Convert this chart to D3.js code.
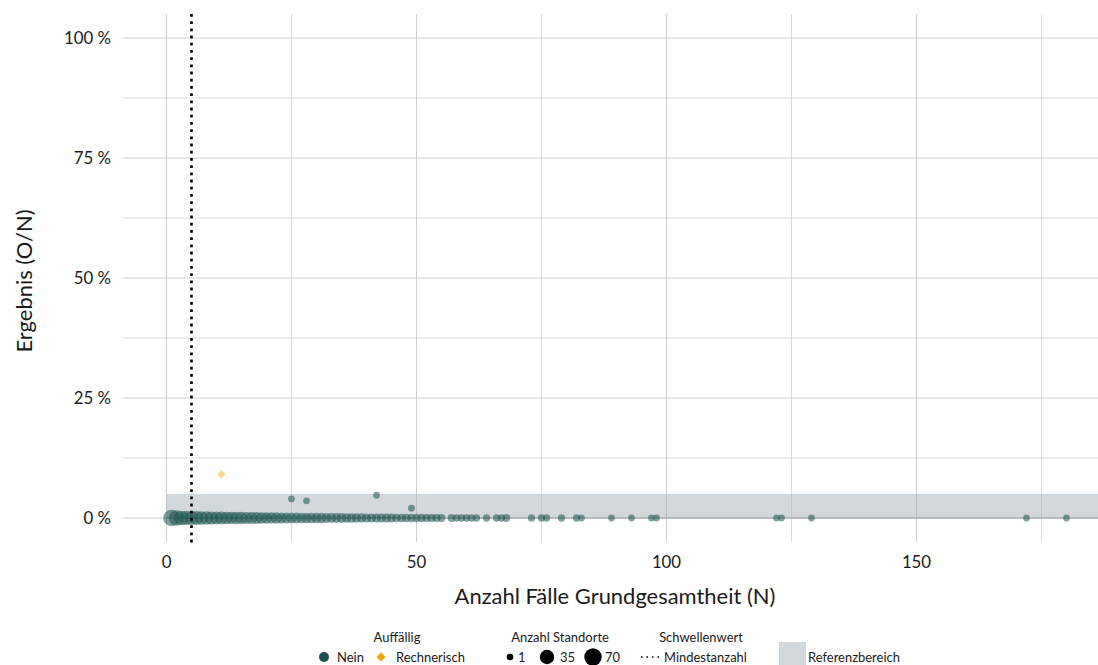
<!DOCTYPE html>
<html><head><meta charset="utf-8">
<script src="https://cdn.jsdelivr.net/npm/d3@7"></script>
<style>
body{margin:0;background:#fff;}
svg{display:block;font-family:Lato,"Open Sans",sans-serif;}
</style></head>
<body><svg id="c" width="1098" height="665"></svg>
<script>
// ---- data ----
// Points with result 0 %: N (Anzahl Fälle) and number of sites (Anzahl Standorte)
const zeroN = [1,2,3,4,5,6,7,8,9,10,11,12,13,14,15,16,17,18,19,20,21,22,23,24,25,26,27,28,29,30,31,32,33,34,35,36,37,38,39,40,41,42,43,44,45,46,47,48,49,50,51,52,53,54,55,57,58,59,60,61,62,64,66,67,68,73,75,76,79,82,83,89,93,97,98,122,123,129,172,180];
const zeroCount = [70,55,48,45,42,40,38,36,34,32,30,29,28,27,26,25,24,23,22,21,20,19,18,17,16,16,15,15,14,14,13,12,12,11,11,10,10,9,9,8,8,8,7,7,7,6,6,6,5,5,5,4,4,4,3,3,2,2,2,2,2,2,2,2,3,2,2,2,2,2,1,1,1,1,1,1,1,1,1,1];
// Points with result > 0 (Auffällig: Nein)
const otherN = [25,28,42,49];
const otherPct = [4.0,3.57,4.76,2.04];
const otherCount = [1,1,1,1];
// Rechnerisch auffällig
const rechN = [11];
const rechPct = [9.09];
const rechCount = [1];

const xTicks = [0,50,100,150];
const xMinor = [25,75,125,175];
const yTicks = [0,25,50,75,100];
const yMinor = [12.5,37.5,62.5,87.5];
const yTickLabels = ["0 %","25 %","50 %","75 %","100 %"];
const refRange = [0,5];
const minCases = 5;
const sizeBreaks = [1,35,70];

// ---- layout ----
const svg = d3.select("#c");
const P = {l:123, r:1098, t:14, b:542};
const x = d3.scaleLinear().domain([-8.7,186.3]).range([P.l,P.r]);
const y = d3.scaleLinear().domain([-5,105]).range([P.b,P.t]);
const rs = d3.scaleLinear().domain([1,Math.sqrt(70)]).range([3.4,8.3]);
const rad = n => rs(Math.sqrt(n));
const teal = "#1d534e", orange = "#f0a30a";
const tf = "#1a1a1a";

// font size that makes a text reach a given width
function fitSize(txt, w){
  const t = svg.append("text").attr("font-size",20).text(txt);
  const m = t.node().getComputedTextLength(); t.remove();
  return 20*w/m;
}
const fsTitle = fitSize("Anzahl Fälle Grundgesamtheit (N)", 321);
const fsTick = fitSize("100 %", 47);
const fsLeg = fitSize("Referenzbereich", 92);

const g = svg.append("g");
// grid
g.selectAll(".gm").data(yMinor).join("line")
  .attr("x1",P.l).attr("x2",P.r).attr("y1",d=>y(d)).attr("y2",d=>y(d))
  .attr("stroke","#dcdcdc").attr("stroke-width",1);
g.selectAll(".gv").data(xMinor).join("line")
  .attr("y1",P.t).attr("y2",P.b).attr("x1",d=>x(d)).attr("x2",d=>x(d))
  .attr("stroke","#dcdcdc").attr("stroke-width",1);
g.selectAll(".gM").data(yTicks).join("line")
  .attr("x1",P.l).attr("x2",P.r).attr("y1",d=>y(d)).attr("y2",d=>y(d))
  .attr("stroke","#cfcfcf").attr("stroke-width",1.1);
g.selectAll(".gVM").data(xTicks).join("line")
  .attr("y1",P.t).attr("y2",P.b).attr("x1",d=>x(d)).attr("x2",d=>x(d))
  .attr("stroke","#cfcfcf").attr("stroke-width",1.1);

// reference band
g.append("rect").attr("x",x(refRange[0])).attr("width",P.r-x(refRange[0]))
  .attr("y",y(refRange[1])).attr("height",y(refRange[0])-y(refRange[1]))
  .attr("fill","#a7b1ba").attr("fill-opacity",0.5);
g.append("line").attr("x1",x(refRange[0])).attr("x2",P.r).attr("y1",y(0)).attr("y2",y(0))
  .attr("stroke","#aab0b4").attr("stroke-width",1.3);

// points
const pts = zeroN.map((n,i)=>({n, v:0, c:zeroCount[i]}))
  .concat(otherN.map((n,i)=>({n, v:otherPct[i], c:otherCount[i]})));
g.selectAll(".p").data(pts).join("circle")
  .attr("cx",d=>x(d.n)).attr("cy",d=>y(d.v)).attr("r",d=>rad(d.c))
  .attr("fill",teal).attr("fill-opacity",0.55);
const sq = d3.symbol().type(d3.symbolSquare);
g.selectAll(".r").data(rechN.map((n,i)=>({n,v:rechPct[i],c:rechCount[i]}))).join("path")
  .attr("transform",d=>`translate(${x(d.n)},${y(d.v)}) rotate(45)`)
  .attr("d",d=>sq.size(Math.pow(rad(d.c)*1.75,2))())
  .attr("fill",orange).attr("fill-opacity",0.45);

// threshold line
g.append("line").attr("x1",x(minCases)).attr("x2",x(minCases)).attr("y1",P.t).attr("y2",P.b+1)
  .attr("stroke","#000").attr("stroke-width",2.6).attr("stroke-dasharray","2.8,4.4");

// axes labels
svg.selectAll(".xt").data(xTicks).join("text")
  .attr("x",d=>x(d)).attr("y",568).attr("text-anchor","middle")
  .attr("font-size",fsTick).attr("fill",tf).text(d=>d);
svg.selectAll(".yt").data(yTicks).join("text")
  .attr("x",111).attr("y",d=>y(d)+5.8).attr("text-anchor","end")
  .attr("font-size",fsTick).attr("fill",tf).text((d,i)=>yTickLabels[i]);
svg.append("text").attr("x",615).attr("y",603.5).attr("text-anchor","middle")
  .attr("font-size",fsTitle).attr("fill",tf).text("Anzahl Fälle Grundgesamtheit (N)");
svg.append("text").attr("transform","translate(31.5,281) rotate(-90)").attr("text-anchor","middle")
  .attr("font-size",fsTitle).attr("fill",tf).text("Ergebnis (O/N)");

// legend
const L = svg.append("g").attr("font-size",fsLeg).attr("fill",tf);
const ty = 641.5, ey = 661.5;
L.append("text").attr("x",397).attr("y",ty).attr("text-anchor","middle").text("Auffällig");
L.append("circle").attr("cx",324).attr("cy",ey-4.5).attr("r",5).attr("fill",teal);
L.append("text").attr("x",337).attr("y",ey).text("Nein");
L.append("path").attr("transform",`translate(381,${ey-4.5}) rotate(45)`)
  .attr("d",d3.symbol().type(d3.symbolSquare).size(40)()).attr("fill",orange);
L.append("text").attr("x",396).attr("y",ey).text("Rechnerisch");

L.append("text").attr("x",560).attr("y",ty).attr("text-anchor","middle").text("Anzahl Standorte");
const sx = [510,547,593], slx = [518,560,605];
sizeBreaks.forEach((b,i)=>{
  L.append("circle").attr("cx",sx[i]).attr("cy",ey-4.5).attr("r",[3.3,7.2,8.7][i]).attr("fill","#000");
  L.append("text").attr("x",slx[i]).attr("y",ey).text(b);
});

L.append("text").attr("x",701).attr("y",ty).attr("text-anchor","middle").text("Schwellenwert");
L.append("line").attr("x1",641).attr("x2",661).attr("y1",ey-4.5).attr("y2",ey-4.5)
  .attr("stroke","#000").attr("stroke-width",1.5).attr("stroke-dasharray","1.5,4");
L.append("text").attr("x",664).attr("y",ey).text("Mindestanzahl");

L.append("rect").attr("x",779).attr("y",642).attr("width",27).attr("height",23).attr("fill","#d3d8dc");
L.append("text").attr("x",808).attr("y",ey).text("Referenzbereich");
</script></body></html>
